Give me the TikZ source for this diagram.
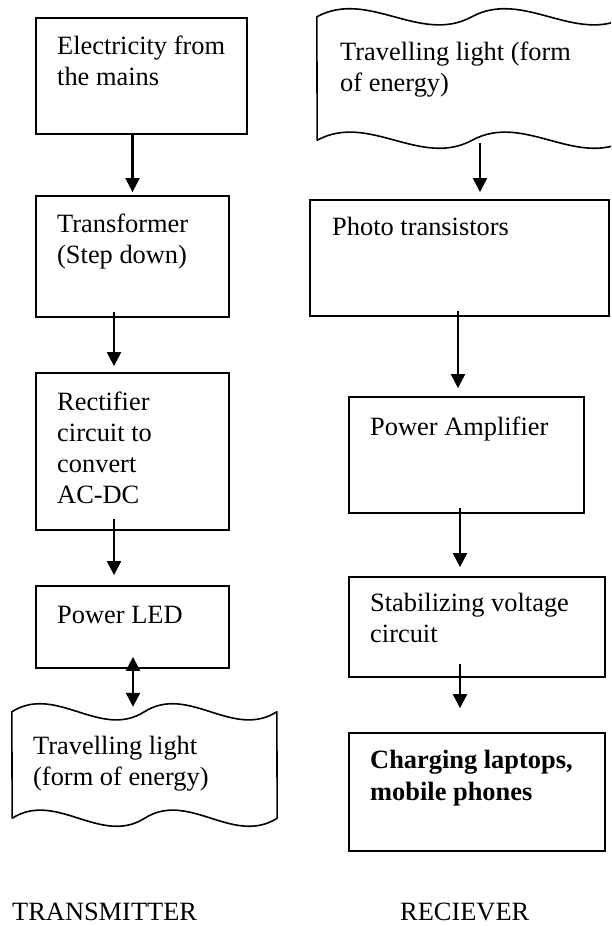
\documentclass[tikz,border=0pt]{standalone}
\usepackage{fontspec}
\setmainfont{Liberation Serif}
\usetikzlibrary{arrows.meta}
\newcommand\drawtape[3]{%
  \draw[tapeline] (#1.north west)
    .. controls +(#2/3,#3) and +(-#2/3,-#3) .. ++(#2,0)
    .. controls +(#2/3,#3) and +(-#2/3,-#3) .. ++(#2,0)
    -- (#1.south east)
    .. controls +(-#2/3,-#3) and +(#2/3,#3) .. ++(-#2,0)
    .. controls +(-#2/3,-#3) and +(#2/3,#3) .. ++(-#2,0)
    -- cycle;}
\begin{document}
\begin{tikzpicture}[x=1pt,y=1pt,
  box/.style={draw=black, line width=1.8pt, inner sep=0pt, rectangle},
  ghost/.style={inner sep=0pt, rectangle},
  lbl/.style={anchor=base west, inner sep=0pt, font=\fontsize{26.4}{31}\selectfont},
  blbl/.style={anchor=base west, inner sep=0pt, font=\fontsize{26.4}{32}\selectfont\bfseries},
  tapeline/.style={line width=1.6pt, line join=round},
  arr/.style={line width=2.2pt, -{Triangle[length=14pt,width=14pt]}},
  darr/.style={line width=2.2pt, {Triangle[length=14pt,width=14pt]}-{Triangle[length=14pt,width=14pt]}}]
\useasboundingbox (0,0) rectangle (611,-926);
\clip (0,0) rectangle (611,-926);
\fill[white] (0,0) rectangle (611,-926);

% ---------- Transmitter column ----------
\node[box, minimum width=211pt, minimum height=116pt] (b1) at (141.5,-76) {};
\node[box, minimum width=193pt, minimum height=121pt] (b2) at (132.5,-256.5) {};
\node[box, minimum width=193pt, minimum height=157pt] (b3) at (132.5,-451.5) {};
\node[box, minimum width=193pt, minimum height=82pt] (b4) at (132.5,-627) {};
\node[ghost, minimum width=265pt, minimum height=106pt] (t1) at (144.5,-765) {};
\drawtape{t1}{132.5}{28}

\node[lbl] (l1) at (57,-54) {\begin{tabular}[t]{@{}l@{}}Electricity from\\the mains\end{tabular}};
\node[lbl] (l2) at (57,-232) {\begin{tabular}[t]{@{}l@{}}Transformer\\(Step down)\end{tabular}};
\node[lbl] (l3) at (57,-410) {\begin{tabular}[t]{@{}l@{}}Rectifier\\circuit to\\convert\\AC-DC\end{tabular}};
\node[lbl] (l4) at (57,-623) {Power LED};
\node[lbl] (l5) at (33,-754) {\begin{tabular}[t]{@{}l@{}}Travelling light\\(form of energy)\end{tabular}};
\node[lbl] (tx) at (12,-920) {TRANSMITTER};

\draw[arr] (b1.south -| b2.north) -- ([yshift=3pt]b2.north);
\draw[arr] ([xshift=-18.5pt,yshift=6pt]b2.south) -- ([xshift=-18.5pt,yshift=6pt]b3.north);
\draw[arr] ([xshift=-18.5pt,yshift=12pt]b3.south) -- ([xshift=-18.5pt,yshift=10pt]b4.north);
\draw[darr] ([xshift=0.5pt,yshift=12pt]b4.south) -- ([xshift=-11.5pt,yshift=5pt]t1.north);

% ---------- Receiver column ----------
\node[ghost, minimum width=310pt, minimum height=123pt] (t2) at (472,-78.5) {};
\drawtape{t2}{155}{28}
\node[box, minimum width=299pt, minimum height=116pt] (b5) at (459.5,-258) {};
\node[box, minimum width=235pt, minimum height=116pt] (b6) at (466.5,-455) {};
\node[box, minimum width=256pt, minimum height=100pt] (b7) at (477,-627) {};
\node[box, minimum width=256pt, minimum height=118pt] (b8) at (477,-792) {};

\node[lbl] (r1) at (340,-60) {\begin{tabular}[t]{@{}l@{}}Travelling light (form\\of energy)\end{tabular}};
\node[lbl] (r2) at (332,-235) {Photo transistors};
\node[lbl] (r3) at (370,-435) {Power Amplifier};
\node[lbl] (r4) at (370,-611) {\begin{tabular}[t]{@{}l@{}}Stabilizing voltage\\circuit\end{tabular}};
\node[blbl] (r5) at (370,-768) {\begin{tabular}[t]{@{}l@{}}Charging laptops,\\mobile phones\end{tabular}};
\node[lbl] (rx) at (400,-920) {RECIEVER};

\draw[arr] ([xshift=8pt,yshift=-3pt]t2.south) -- ([xshift=20.5pt,yshift=7pt]b5.north);
\draw[arr] ([xshift=-1.5pt,yshift=6pt]b5.south) -- ([xshift=-8.5pt,yshift=8pt]b6.north);
\draw[arr] ([xshift=-6.5pt,yshift=6pt]b6.south) -- ([xshift=-17pt,yshift=9pt]b7.north);
\draw[arr] ([xshift=-17pt,yshift=14pt]b7.south) -- ([xshift=-17pt,yshift=24pt]b8.north);
\end{tikzpicture}
\end{document}
